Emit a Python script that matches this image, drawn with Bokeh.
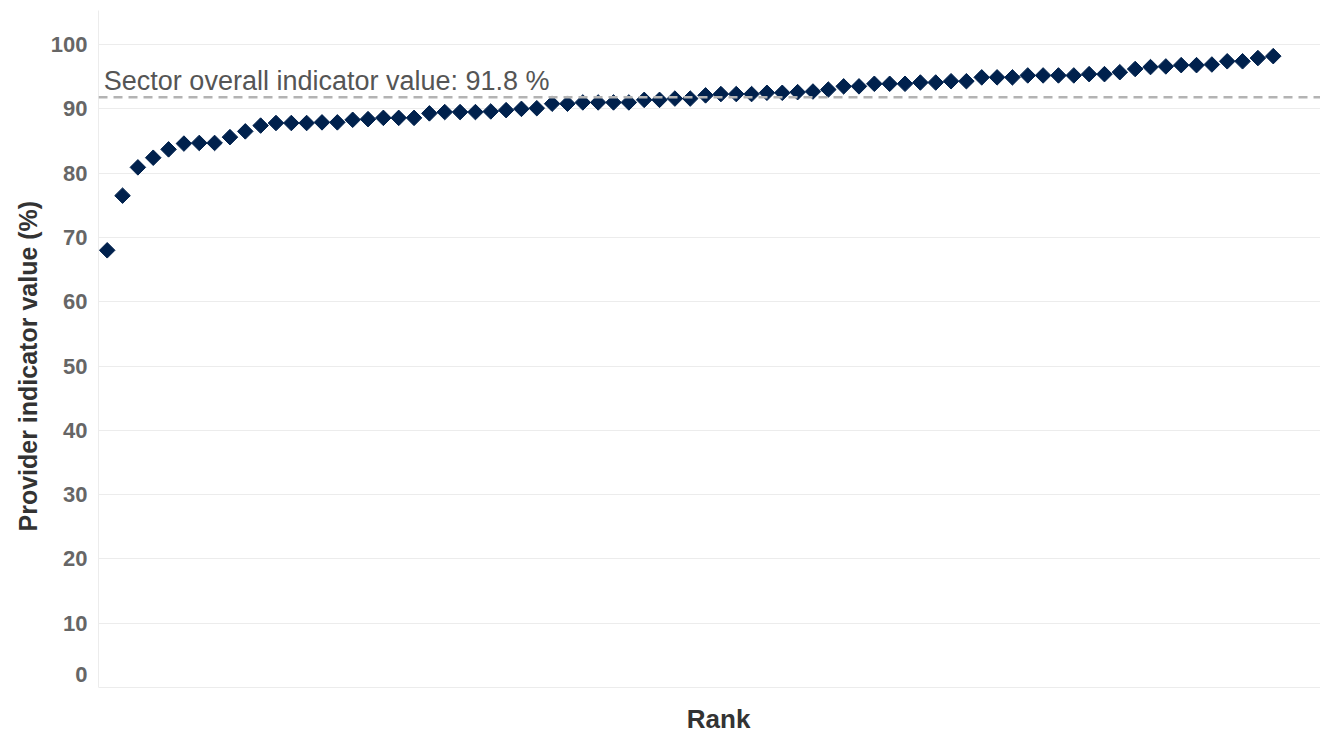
import numpy as np
from bokeh.plotting import figure
from bokeh.models import Span, Label, FixedTicker, Range1d, Title
from bokeh.embed import file_html
from bokeh.resources import INLINE

# ---- data ----
ranks = list(range(1, 78))
indicator_values = [
    68.0, 76.5, 80.9, 82.4, 83.7, 84.6, 84.7, 84.7, 85.6, 86.5,
    87.4, 87.8, 87.8, 87.8, 87.9, 87.9, 88.3, 88.4, 88.6, 88.6,
    88.6, 89.3, 89.5, 89.5, 89.5, 89.6, 89.8, 90.0, 90.1, 90.8,
    90.8, 91.0, 91.0, 91.0, 91.0, 91.4, 91.4, 91.6, 91.6, 92.1,
    92.3, 92.3, 92.3, 92.5, 92.5, 92.6, 92.7, 93.0, 93.5, 93.5,
    93.9, 93.9, 93.9, 94.1, 94.1, 94.3, 94.3, 94.9, 94.9, 94.9,
    95.2, 95.2, 95.2, 95.2, 95.4, 95.4, 95.7, 96.2, 96.5, 96.6,
    96.8, 96.8, 96.9, 97.4, 97.4, 97.9, 98.2,
]
sector_value = 91.8
y_ticks = [0, 10, 20, 30, 40, 50, 60, 70, 80, 90, 100]
y_tick_labels = ["0", "10", "20", "30", "40", "50", "60", "70", "80", "90", "100"]
x_axis_title = "Rank"
y_axis_title = "Provider indicator value (%)"
sector_label = f"Sector overall indicator value: {sector_value} %"

FONT = "Liberation Sans"
TICK_COLOR = "#666666"
GRID = "#ececec"

# frame runs to the bottom of the page so that the "Rank" title can sit in it
p = figure(width=1320, height=735, output_backend="svg", toolbar_location=None,
           x_range=Range1d(0.433, 80.08), y_range=Range1d(-7.47, 105.3),
           min_border_left=98, min_border_right=0, min_border_top=10, min_border_bottom=0)
p.outline_line_color = None
p.background_fill_color = "white"
p.border_fill_color = "white"

p.xaxis.visible = False
p.xgrid.visible = False

# the lowest label sits a little above its gridline, as in the reference
label_positions = [2.0] + y_ticks[1:]
p.yaxis.ticker = FixedTicker(ticks=label_positions)
p.yaxis.bounds = (0, 105.3)
p.yaxis.major_label_overrides = {pos: lab for pos, lab in zip(label_positions, y_tick_labels)}
p.yaxis.major_label_text_font = FONT
p.yaxis.major_label_text_font_style = "bold"
p.yaxis.major_label_text_font_size = "22px"
p.yaxis.major_label_text_color = TICK_COLOR
p.yaxis.major_label_standoff = 3
p.yaxis.major_tick_out = 8
p.yaxis.major_tick_in = 0
p.yaxis.major_tick_line_color = None
p.yaxis.minor_tick_line_color = None
p.yaxis.axis_line_color = GRID
p.ygrid.ticker = FixedTicker(ticks=y_ticks)
p.ygrid.grid_line_color = GRID
p.ygrid.grid_line_width = 1

# y axis title (slightly below centre of the value range, as in the reference)
p.add_layout(Title(text=y_axis_title, align="left", offset=204, standoff=12,
                   text_font=FONT, text_font_style="bold",
                   text_font_size="25px", text_color="#333333"), "left")

# sector reference line
p.add_layout(Span(location=sector_value, dimension="width", line_color="#b3b3b3",
                  line_width=2.5, line_dash="9 6"))
p.add_layout(Label(x=0.78, y=94.4, text=sector_label,
                   text_align="left", text_baseline="alphabetic",
                   text_font=FONT, text_font_size="27px", text_color="#555555"))

# points
p.scatter(ranks, indicator_values, marker="square", angle=np.pi / 4, size=11,
          fill_color="#00214d", line_color="#00214d")

# x axis title
p.add_layout(Label(x=40.85, y=-4.9, text=x_axis_title, text_align="center",
                   text_baseline="middle", text_font=FONT, text_font_style="bold",
                   text_font_size="26px", text_color="#333333"))

open("out.html", "w").write(file_html(p, INLINE))
